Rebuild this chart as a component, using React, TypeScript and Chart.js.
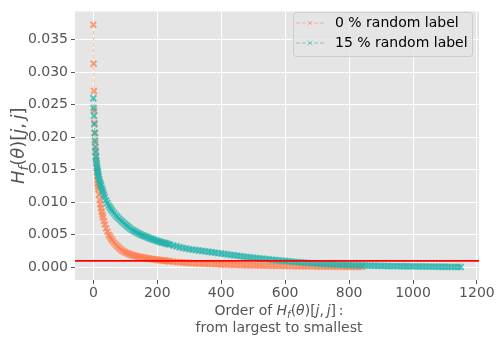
import React, { useEffect, useRef } from "react";
import { Chart, registerables } from "chart.js";

Chart.register(...registerables);

// Order of H_f(theta)[j,j] (rank index, largest to smallest)
const ranks = [
  0, 1, 2, 3, 4, 5, 6, 7, 8, 9, 10, 11, 12, 13, 14, 15, 16,
  18, 20, 22, 24, 26, 28, 30,
  33, 36,
  40, 44, 48, 52, 56,
  60, 65, 70, 75, 80, 85, 90, 95, 100, 105, 110, 115, 120, 125, 130, 135, 140, 145,
  150, 155, 160, 165, 170, 175, 180, 185, 190, 195, 200, 205, 210, 215, 220, 225, 230, 235,
  240, 250, 260, 270, 280, 290, 300, 310, 320, 330,
  340, 350, 360, 370, 380, 390, 400, 410, 420, 430,
  440, 450, 460, 470, 480, 490, 500, 510, 520, 530,
  540, 550, 560, 570, 580, 590, 600, 610, 620, 630,
  640, 650, 660, 670, 680, 690, 700, 710, 720, 730,
  740, 750, 760, 770, 780, 790, 800, 810, 820, 830,
  840, 850, 860, 870, 880, 890, 900, 910, 920, 930,
  940, 950, 960, 970, 980, 990, 1000, 1010, 1020, 1030,
  1040, 1050, 1060, 1070, 1080, 1090, 1100, 1110, 1120, 1130,
  1140, 1149,
];

// 0 % random label
const valuesClean = [
  0.0373, 0.0313, 0.0271, 0.0241, 0.0222, 0.0206, 0.0192, 0.018, 0.017, 0.0161, 0.0153, 0.0146, 0.014, 0.0134, 0.0129, 0.0124, 0.012,
  0.0112, 0.0104, 0.0097, 0.0091, 0.0086, 0.0081, 0.0077,
  0.0071, 0.0066,
  0.006, 0.0055, 0.005, 0.0047, 0.0044,
  0.0041, 0.0038, 0.0035, 0.00325, 0.003, 0.0028, 0.0026, 0.00245, 0.0023, 0.0022, 0.0021, 0.002, 0.0019, 0.00184, 0.00178, 0.00172, 0.00166, 0.0016,
  0.00155, 0.00151, 0.00147, 0.00143, 0.00139, 0.00135, 0.0013, 0.00127, 0.00123, 0.0012, 0.00117, 0.00113, 0.0011, 0.00107, 0.00105, 0.00102, 0.001, 0.00097,
  0.00092, 0.00087, 0.00082, 0.00078, 0.00075, 0.00071, 0.00068, 0.00065, 0.00062, 0.0006,
  0.00057, 0.00055, 0.00053, 0.00051, 0.00049, 0.00047, 0.00045, 0.00043, 0.00042, 0.0004,
  0.00038, 0.00037, 0.00036, 0.00034, 0.00033, 0.00032, 0.00031, 0.0003, 0.00029, 0.00028,
  0.00027, 0.00026, 0.00025, 0.00024, 0.00023, 0.00022, 0.00021, 0.0002, 0.0002, 0.00019,
  0.00018, 0.00018, 0.00017, 0.00016, 0.00016, 0.00015, 0.00014, 0.00014, 0.00013, 0.00012,
  0.00012, 0.00011, 0.00011, 0.0001, 0.0001, 0.00009, 0.00009, 0.00008, 0.00008, 0.00007,
  0.00007,
];

// 15 % random label
const valuesNoisy = [
  0.026, 0.0245, 0.0233, 0.022, 0.0207, 0.0195, 0.0185, 0.0177, 0.017, 0.0165, 0.016, 0.0156, 0.0152, 0.0149, 0.0146, 0.0143, 0.014,
  0.0136, 0.0132, 0.0129, 0.0126, 0.0122, 0.0119, 0.0116,
  0.0112, 0.0108,
  0.0103, 0.0099, 0.0095, 0.0092, 0.0089,
  0.0086, 0.0083, 0.008, 0.00775, 0.0075, 0.00727, 0.00705, 0.00682, 0.0066, 0.0064, 0.0062, 0.006, 0.0058, 0.00566, 0.00552, 0.00539, 0.00526, 0.00513,
  0.005, 0.0049, 0.0048, 0.0047, 0.0046, 0.0045, 0.0044, 0.00432, 0.00423, 0.00415, 0.00407, 0.00398, 0.0039, 0.00383, 0.00377, 0.0037, 0.00363, 0.00357,
  0.0035, 0.00337, 0.00324, 0.0031, 0.003, 0.0029, 0.0028, 0.00273, 0.00266, 0.0026,
  0.00253, 0.00246, 0.0024, 0.00233, 0.00226, 0.0022, 0.00213, 0.00206, 0.002, 0.00193,
  0.00186, 0.0018, 0.00173, 0.00166, 0.0016, 0.00154, 0.00148, 0.00143, 0.00138, 0.00132,
  0.00127, 0.00122, 0.00117, 0.00112, 0.00107, 0.00103, 0.00098, 0.00094, 0.00089, 0.00085,
  0.00081, 0.00077, 0.00073, 0.00069, 0.00066, 0.00062, 0.00059, 0.00056, 0.00053, 0.00051,
  0.00048, 0.00046, 0.00044, 0.00042, 0.0004, 0.00038, 0.00037, 0.00035, 0.00033, 0.00032,
  0.0003, 0.00029, 0.00027, 0.00026, 0.00025, 0.00024, 0.00023, 0.00022, 0.00021, 0.0002,
  0.00019, 0.00019, 0.00018, 0.00017, 0.00017, 0.00016, 0.00015, 0.00015, 0.00014, 0.00013,
  0.00013, 0.00012, 0.00011, 0.00011, 0.0001, 0.00009, 0.00009, 0.00008, 0.00007, 0.00007,
  0.00006, 0.00005,
];

const seriesLabels = ["0 % random label", "15 % random label"];
const seriesRGB = ["255,127,80", "32,178,170"];
const xTicks = [0, 200, 400, 600, 800, 1000, 1200];
const yTicks = [0, 0.005, 0.01, 0.015, 0.02, 0.025, 0.03, 0.035];
const threshold = 0.001;

const FONT = '"DejaVu Sans", sans-serif';
const MARK_ALPHA = 0.72;

type Seg = [string, boolean?, boolean?];
const mathSegs: Seg[] = [
  ["H", true], ["f", true, true], ["(", false], ["\u03B8", true], [")", false],
  ["[", false], ["j", true], [",", false], ["\u2009", false], ["j", true], ["]", false],
];

function segFont(size: number, it?: boolean, sub?: boolean) {
  return `${it ? "italic " : ""}${sub ? Math.round(size * 0.7) : size}px ${FONT}`;
}

function drawRich(ctx: CanvasRenderingContext2D, segs: Seg[], cx: number, cy: number, size: number, color: string) {
  ctx.save();
  ctx.fillStyle = color;
  ctx.textBaseline = "alphabetic";
  ctx.textAlign = "left";
  let total = 0;
  const widths = segs.map(([t, it, sub]) => {
    ctx.font = segFont(size, it, sub);
    const w = ctx.measureText(t).width;
    total += w;
    return w;
  });
  let x = cx - total / 2;
  const base = cy + size * 0.36;
  segs.forEach(([t, it, sub], i) => {
    ctx.font = segFont(size, it, sub);
    ctx.fillText(t, x, sub ? base + size * 0.2 : base);
    x += widths[i];
  });
  ctx.restore();
}

function drawCross(ctx: CanvasRenderingContext2D, x: number, y: number, r: number) {
  ctx.beginPath();
  ctx.moveTo(x - r, y - r);
  ctx.lineTo(x + r, y + r);
  ctx.moveTo(x - r, y + r);
  ctx.lineTo(x + r, y - r);
  ctx.stroke();
}

export default function App() {
  const ref = useRef<HTMLCanvasElement>(null);

  useEffect(() => {
    document.body.style.margin = "0";
    const canvas = ref.current;
    if (!canvas) return;

    const bgPlugin = {
      id: "bgPlugin",
      beforeDraw(chart: any) {
        const { ctx, chartArea: a } = chart;
        ctx.save();
        ctx.fillStyle = "#ffffff";
        ctx.fillRect(0, 0, chart.width, chart.height);
        ctx.fillStyle = "#E5E5E5";
        ctx.fillRect(a.left, a.top, a.right - a.left, a.bottom - a.top);
        ctx.restore();
      },
    };

    const refLinePlugin = {
      id: "refLinePlugin",
      afterDatasetsDraw(chart: any) {
        const { ctx, chartArea: a } = chart;
        const y = chart.scales.y.getPixelForValue(threshold);
        ctx.save();
        ctx.strokeStyle = "#ff0000";
        ctx.lineWidth = 1.6;
        ctx.beginPath();
        ctx.moveTo(a.left, y);
        ctx.lineTo(a.right, y);
        ctx.stroke();
        ctx.restore();
      },
    };

    const textPlugin = {
      id: "textPlugin",
      afterDraw(chart: any) {
        const { ctx, chartArea: a } = chart;
        // y title
        ctx.save();
        ctx.translate(18, (a.top + a.bottom) / 2);
        ctx.rotate(-Math.PI / 2);
        drawRich(ctx, mathSegs, 0, 0, 18, "#555555");
        ctx.restore();
        // x title
        const cx = (a.left + a.right) / 2 + 2;
        const line1: Seg[] = [["Order of ", false], ...mathSegs, ["\u2009:", false]];
        drawRich(ctx, line1, cx, 310, 14, "#555555");
        drawRich(ctx, [["from largest to smallest", false]], cx, 327, 14, "#555555");

        // legend
        const lx = 293, ly = 12, lw = 179, lh = 44;
        ctx.save();
        ctx.fillStyle = "rgba(229,229,229,0.8)";
        ctx.strokeStyle = "#cccccc";
        ctx.lineWidth = 1;
        ctx.beginPath();
        (ctx as any).roundRect ? (ctx as any).roundRect(lx + 0.5, ly + 0.5, lw, lh, 3) : ctx.rect(lx + 0.5, ly + 0.5, lw, lh);
        ctx.fill();
        ctx.stroke();
        seriesLabels.forEach((label, i) => {
          const y = 23 + i * 20;
          const col = `rgba(${seriesRGB[i]},0.5)`;
          ctx.strokeStyle = col;
          ctx.lineWidth = 1;
          ctx.setLineDash([4, 2]);
          ctx.beginPath();
          ctx.moveTo(296, y);
          ctx.lineTo(324, y);
          ctx.stroke();
          ctx.setLineDash([]);
          drawCross(ctx, 310, y, 2.5);
          ctx.fillStyle = "#000000";
          ctx.font = `14px ${FONT}`;
          ctx.textAlign = "left";
          ctx.textBaseline = "middle";
          ctx.fillText(label, 335, y);
        });
        ctx.restore();
      },
    };

    const makeData = (vals: number[]) => vals.map((v, i) => ({ x: ranks[i], y: v }));

    const ds = (idx: number, vals: number[], order: number) => ({
      label: seriesLabels[idx],
      data: makeData(vals),
      showLine: true,
      borderColor: `rgba(${seriesRGB[idx]},0.5)`,
      backgroundColor: `rgba(${seriesRGB[idx]},${MARK_ALPHA})`,
      borderWidth: 1,
      borderDash: [4, 2],
      pointStyle: "crossRot",
      pointRadius: 4.2,
      pointBorderWidth: 2,
      pointBorderColor: `rgba(${seriesRGB[idx]},${MARK_ALPHA})`,
      order,
    });

    const chart = new Chart(canvas, {
      type: "scatter",
      data: {
        datasets: [ds(1, valuesNoisy, 1) as any, ds(0, valuesClean, 2) as any],
      },
      options: {
        responsive: false,
        devicePixelRatio: 1,
        animation: false,
        layout: { padding: { left: 0, top: 4, right: 21, bottom: 0 } },
        plugins: { legend: { display: false }, tooltip: { enabled: false } },
        scales: {
          x: {
            type: "linear",
            min: -57.45,
            max: 1206.45,
            afterBuildTicks: (s: any) => {
              s.ticks = xTicks.map((v) => ({ value: v }));
            },
            afterFit: (s: any) => {
              s.height = 70;
            },
            grid: { color: "#ffffff", lineWidth: 1, tickColor: "#555555", tickLength: 4 },
            border: { display: false },
            ticks: {
              color: "#555555",
              font: { family: FONT, size: 14 },
              padding: 1,
              maxRotation: 0,
              autoSkip: false,
              callback: (v: any) => String(v),
            },
          },
          y: {
            type: "linear",
            min: -0.00194,
            max: 0.03934,
            afterBuildTicks: (s: any) => {
              s.ticks = yTicks.map((v) => ({ value: v }));
            },
            afterFit: (s: any) => {
              s.width = 75;
            },
            grid: { color: "#ffffff", lineWidth: 1, tickColor: "#555555", tickLength: 4 },
            border: { display: false },
            ticks: {
              color: "#555555",
              font: { family: FONT, size: 14 },
              padding: 3,
              autoSkip: false,
              callback: (v: any) => Number(v).toFixed(3),
            },
          },
        },
      },
      plugins: [bgPlugin, refLinePlugin, textPlugin],
    });

    return () => chart.destroy();
  }, []);

  return (
    <div style={{ position: "absolute", left: 0, top: 0, width: 500, height: 350, background: "#fff" }}>
      <canvas ref={ref} width={500} height={350} style={{ width: 500, height: 350, display: "block" }} />
    </div>
  );
}
